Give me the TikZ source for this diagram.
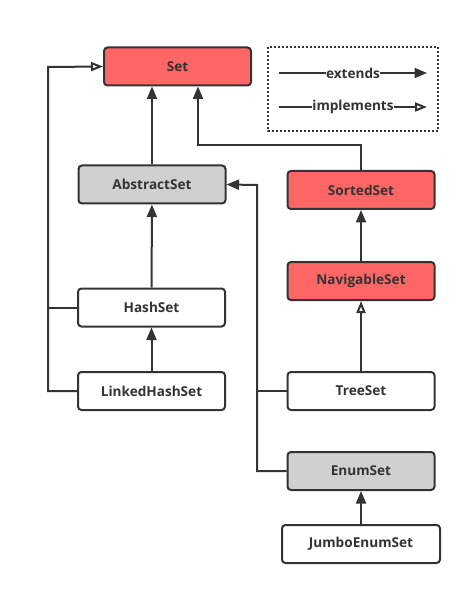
\documentclass[tikz,border=0pt]{standalone}
\usepackage{fontspec}
\setmainfont{Open Sans}
\usetikzlibrary{arrows.meta}
\definecolor{ink}{HTML}{333333}
\definecolor{redfill}{HTML}{FF6666}
\definecolor{grayfill}{HTML}{D0D0D0}
\tikzset{
  lbl/.style={font=\bfseries\fontsize{13.6}{15}\selectfont, text=ink},
  cls/.style={lbl, draw=ink, line width=2pt, rounded corners=3.5pt, minimum width=147pt, minimum height=38pt, inner sep=0pt},
  iface/.style={cls, fill=redfill},
  abs/.style={cls, fill=grayfill},
  conc/.style={cls, fill=white},
  ext/.style={draw=ink, line width=2pt, -{Triangle[length=12.5pt,width=10pt]}},
  impl/.style={draw=ink, line width=2pt, -{Triangle[open,length=12pt,width=9pt]}},
  plain/.style={draw=ink, line width=2pt},
}
\begin{document}
\begin{tikzpicture}[x=1pt,y=-1pt]
\useasboundingbox (0,0) rectangle (472,593);
\node[iface] (set) at (177.5,66.5) {Set};
\node[abs] (abstract) at (152,184.5) {AbstractSet};
\node[iface] (sorted) at (361,190) {SortedSet};
\node[iface] (navigable) at (361,281) {NavigableSet};
\node[conc] (hash) at (151.5,307.5) {HashSet};
\node[conc] (linked) at (151.5,391) {LinkedHashSet};
\node[conc] (tree) at (361,391) {TreeSet};
\node[abs] (enum) at (361,471) {EnumSet};
\node[conc, minimum width=158pt] (jumbo) at (361,544) {JumboEnumSet};
% legend
\draw[ink, line width=2pt, dash pattern=on 2pt off 2pt] (268,47) rectangle (438,131);
\coordinate (e1) at (279,73); \coordinate (e2) at (427,73);
\coordinate (i1) at (279,107); \coordinate (i2) at (427,107);
\draw[ext] (e1) -- node[lbl, fill=white, inner sep=0.3pt] (extlbl) {extends} (e2);
\draw[impl] (i1) -- node[lbl, fill=white, inner sep=0.3pt] (impllbl) {implements} (i2);
% connectors
\coordinate (sb) at (198,145);
\draw[ext] (abstract.north) -- (abstract.north |- set.south);
\draw[ext] (sorted.north) |- (sb) -- (sb |- set.south);
\draw[ext] (hash) -- (abstract);
\draw[ext] (linked) -- (hash);
\draw[ext] (navigable) -- (sorted);
\draw[impl] (tree) -- (navigable);
\draw[ext] (jumbo) -- (enum);
\coordinate (lx) at (48,67);
\coordinate (rx) at (257,185);
\draw[plain] (hash.west) -- (lx |- hash.west);
\draw[impl] (linked.west) -| (lx) -- (set.west);
\draw[plain] (tree.west) -- (rx |- tree.west);
\draw[ext] (enum.west) -| (rx) -- (abstract.east);
\end{tikzpicture}
\end{document}
